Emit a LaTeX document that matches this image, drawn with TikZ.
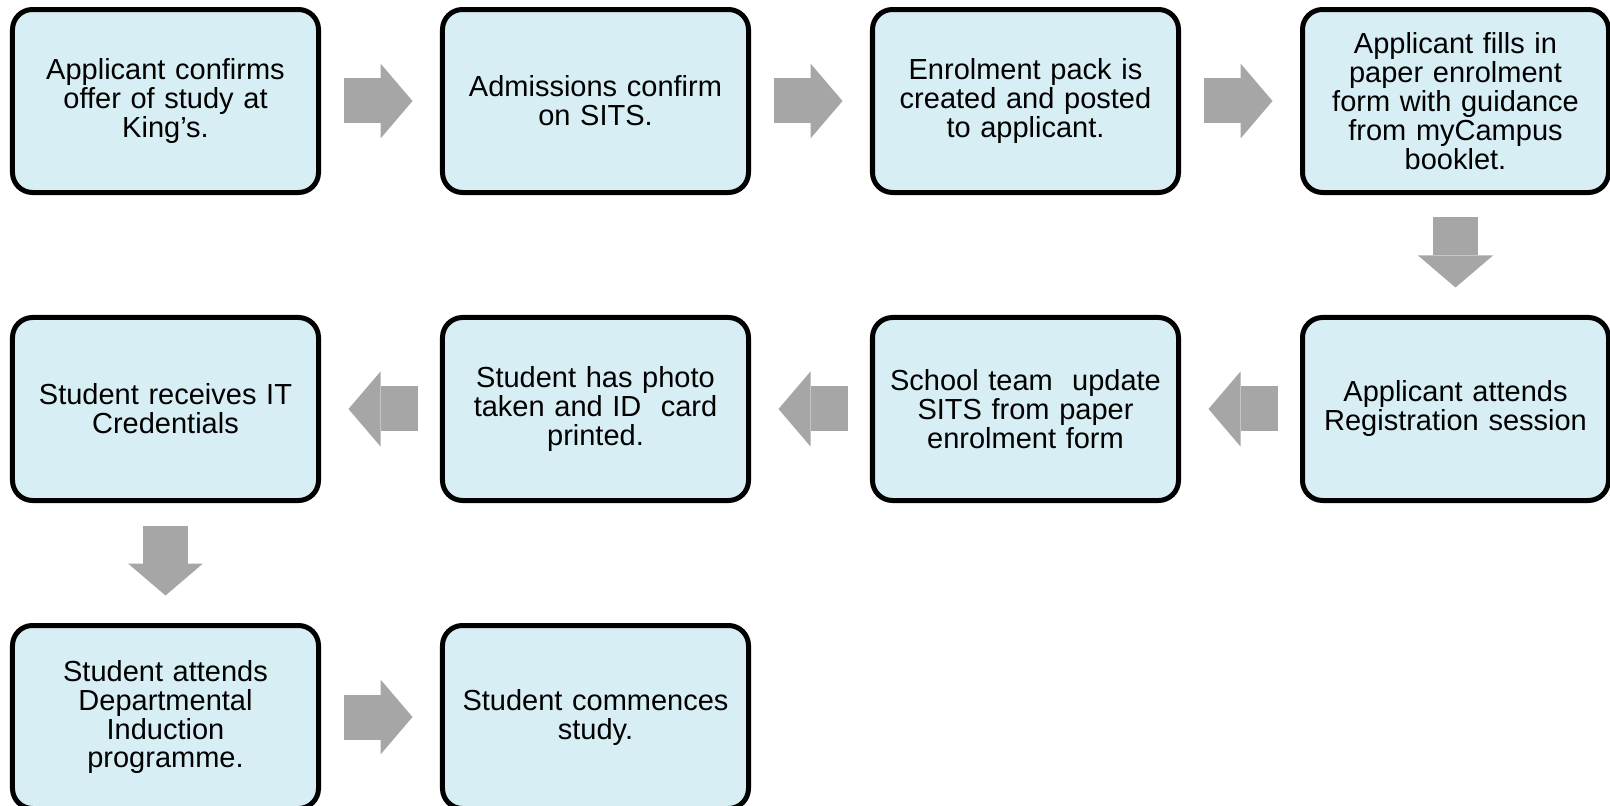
\documentclass[tikz,border=0pt]{standalone}
\usepackage{fontspec}
\setmainfont{Liberation Sans}
\usepackage{tikz}
\usetikzlibrary{matrix,arrows.meta}
\definecolor{boxfill}{HTML}{D7EEF4}
\definecolor{arrowgrey}{HTML}{A6A6A6}
\tikzset{
	stagebox/.style={draw=black, line width=2.5pt, rounded corners=10pt, fill=boxfill,
		minimum width=153pt, minimum height=91.5pt, inner sep=2pt, text width=149pt, align=center,
		font=\fontsize{14.5}{14.5}\selectfont, anchor=center},
	blockarrow/.style={color=arrowgrey, line width=22.5pt, shorten <=12.5pt, shorten >=15pt,
		-{Triangle[width=37.5pt,length=16pt,line width=0pt]}}
}

\begin{document}
\begin{tikzpicture}
	\useasboundingbox (0,0) rectangle (805pt,-403pt);
	\matrix (m) [matrix of nodes,nodes={stagebox},row sep=60pt,column sep=59.5pt,inner sep=0pt,outer sep=0pt,anchor=north west] at (5pt,-3.5pt)
	{
		Applicant confirms\par offer of study at\par King’s. & Admissions confirm\par on SITS. & Enrolment pack is\par created and posted\par to applicant. & Applicant fills in\par paper enrolment\par form with guidance\par from myCampus\par booklet.\\
		Student receives IT\par Credentials & Student has photo\par taken and ID\ \ card\par printed. & School team\ \ update\par SITS from paper\par enrolment form & Applicant attends\par Registration session\\
		Student attends\par Departmental\par Induction\par programme. & Student commences\par study.\\};
	\path[blockarrow]
	(m-1-1) edge (m-1-2)
	(m-1-2) edge (m-1-3)
	(m-1-3) edge (m-1-4)
	(m-1-4) edge (m-2-4)
	(m-2-4) edge (m-2-3)
	(m-2-3) edge (m-2-2)
	(m-2-2) edge (m-2-1)
	(m-2-1) edge (m-3-1)
	(m-3-1) edge (m-3-2);
\end{tikzpicture}
\end{document}
